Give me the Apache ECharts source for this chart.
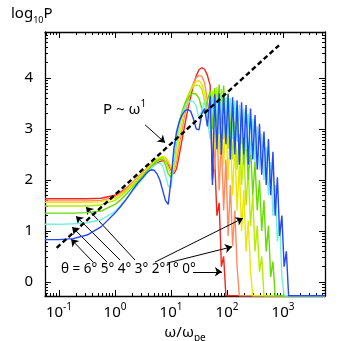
<!DOCTYPE html>
<html>
<head>
<meta charset="UTF-8">
<title>log10P vs ω/ωpe</title>
<style>
  html, body { margin: 0; padding: 0; background: #fff; }
  #chart { width: 341px; height: 341px; }
</style>
<script src="https://cdn.jsdelivr.net/npm/echarts@6/dist/echarts.min.js"></script>
</head>
<body>
<div id="chart"></div>
<script>
// shared frequency grid, as log10(ω/ωpe)
var logOmega = [
  -1.25, -1.0, -0.75, -0.5, -0.25, 0, 0.1, 0.2, 0.3, 0.4,
  0.5, 0.55, 0.6, 0.65, 0.7, 0.75, 0.8, 0.85, 0.9, 0.95, 1.0, 1.05,
  1.1, 1.15, 1.2, 1.25, 1.3, 1.35, 1.4, 1.45, 1.5, 1.55, 1.6, 1.65,
  1.70, 1.74, 1.78, 1.82, 1.86, 1.90, 1.94, 1.98, 2.02, 2.06, 2.10, 2.14,
  2.18, 2.22, 2.26, 2.30, 2.34, 2.38, 2.42, 2.46, 2.50, 2.54, 2.58, 2.62,
  2.66, 2.70, 2.74, 2.78, 2.82, 2.86, 2.90, 2.94, 2.98, 3.02, 3.06, 3.10, 3.14,
  3.75
];
var F = -0.27; // spectrum below the plotted range, sits on the bottom axis

// log10 P for each angle
var p0 = [ // 0 deg, red
  1.63, 1.63, 1.63, 1.63, 1.64, 1.70, 1.76, 1.84, 1.93, 2.03,
  2.13, 2.18, 2.23, 2.27, 2.30, 2.33, 2.36, 2.38, 2.37, 2.30, 2.20, 2.12,
  2.22, 2.50, 2.80, 3.10, 3.38, 3.62, 3.86, 4.04, 4.16, 4.20, 4.17, 4.05,
  3.85, 2.00, 2.40, 1.30, 1.55, 0.30, 0.50, F, F, F, F, F,
  F, F, F, F, F, F, F, F, F, F, F, F,
  F, F, F, F, F, F, F, F, F, F, F, F, F,
  F
];
var p1 = [ // 1 deg, orange
  1.59, 1.59, 1.59, 1.59, 1.60, 1.67, 1.74, 1.83, 1.94, 2.05,
  2.15, 2.21, 2.27, 2.32, 2.37, 2.41, 2.44, 2.45, 2.43, 2.35, 2.22, 2.15,
  2.35, 2.70, 3.00, 3.30, 3.55, 3.75, 3.90, 4.00, 4.05, 4.03, 3.90, 3.55,
  3.00, 3.35, 2.20, 3.10, 1.80, 2.80, 1.40, 2.40, 0.90, 1.90, 0.70, 1.40,
  0.30, F, F, F, F, F, F, F, F, F, F, F,
  F, F, F, F, F, F, F, F, F, F, F, F, F,
  F
];
var p2 = [ // 2 deg, yellow
  1.56, 1.56, 1.56, 1.56, 1.57, 1.64, 1.71, 1.80, 1.91, 2.02,
  2.13, 2.19, 2.25, 2.31, 2.36, 2.41, 2.44, 2.46, 2.44, 2.37, 2.24, 2.20,
  2.50, 2.85, 3.15, 3.40, 3.60, 3.75, 3.86, 3.93, 3.95, 3.88, 3.70, 3.35,
  3.00, 3.60, 2.60, 3.55, 2.50, 3.40, 2.30, 3.20, 2.00, 2.95, 1.70, 2.70,
  1.40, 2.30, 1.00, 1.80, 0.60, 1.20, 0.20, F, F, F, F, F,
  F, F, F, F, F, F, F, F, F, F, F, F, F,
  F
];
var p3 = [ // 3 deg, yellow-green
  1.49, 1.49, 1.49, 1.49, 1.51, 1.60, 1.68, 1.78, 1.89, 2.00,
  2.11, 2.17, 2.23, 2.29, 2.34, 2.39, 2.42, 2.43, 2.38, 2.25, 2.12, 2.30,
  2.70, 3.05, 3.30, 3.50, 3.65, 3.76, 3.83, 3.86, 3.85, 3.78, 3.55, 3.30,
  3.10, 3.75, 2.90, 3.82, 2.90, 3.78, 2.80, 3.60, 2.60, 3.40, 2.40, 3.15,
  2.20, 2.90, 1.90, 2.60, 1.50, 2.20, 1.10, 1.70, 0.60, 1.10, 0.20, 0.50,
  F, F, F, F, F, F, F, F, F, F, F, F, F,
  F
];
var p4 = [ // 4 deg, green
  1.35, 1.35, 1.35, 1.36, 1.39, 1.52, 1.61, 1.72, 1.84, 1.96,
  2.08, 2.14, 2.20, 2.26, 2.32, 2.37, 2.40, 2.40, 2.30, 2.12, 2.05, 2.40,
  2.85, 3.15, 3.35, 3.50, 3.60, 3.67, 3.70, 3.68, 3.60, 3.40, 3.30, 3.55,
  3.75, 3.00, 3.80, 3.10, 3.87, 3.10, 3.85, 3.00, 3.70, 2.90, 3.50, 2.70,
  3.35, 2.50, 3.15, 2.30, 2.90, 2.00, 2.65, 1.70, 2.35, 1.40, 2.00, 1.00,
  1.60, 0.60, 1.10, 0.10, 0.40, F, F, F, F, F, F, F, F,
  F
];
var p5 = [ // 5 deg, cyan
  1.13, 1.13, 1.14, 1.16, 1.22, 1.38, 1.50, 1.63, 1.76, 1.90,
  2.03, 2.10, 2.17, 2.23, 2.28, 2.32, 2.33, 2.28, 2.10, 1.88, 1.85, 2.35,
  2.80, 3.10, 3.30, 3.43, 3.51, 3.55, 3.54, 3.45, 3.20, 3.35, 3.55, 3.20,
  2.80, 3.60, 2.90, 3.62, 2.90, 3.65, 2.90, 3.62, 2.85, 3.60, 2.80, 3.55,
  2.75, 3.48, 2.70, 3.40, 2.60, 3.30, 2.50, 3.20, 2.35, 3.05, 2.20, 2.90,
  2.00, 2.65, 1.70, 2.35, 1.30, 1.90, 0.80, 1.20, 0.10, F, F, F, F,
  F
];
var p6 = [ // 6 deg, blue
  0.83, 0.83, 0.85, 0.92, 1.08, 1.35, 1.48, 1.62, 1.78, 1.93,
  2.05, 2.12, 2.17, 2.20, 2.19, 2.12, 2.00, 1.80, 1.60, 1.52, 2.00, 2.60,
  2.95, 3.15, 3.28, 3.36, 3.38, 3.35, 3.20, 3.00, 2.98, 3.30, 3.40, 3.05,
  3.65, 1.90, 3.68, 2.60, 3.70, 2.50, 3.70, 2.70, 3.68, 2.40, 3.62, 2.50,
  3.56, 2.30, 3.52, 2.50, 3.47, 2.30, 3.40, 2.40, 3.27, 2.20, 3.10, 2.10,
  2.95, 1.90, 2.80, 1.70, 2.55, 1.30, 2.05, 0.90, 1.30, 0.30, 0.60, F, F,
  F
];
var curveNames = ['0°', '1°', '2°', '3°', '4°', '5°', '6°'];
var curveColors = ['#f3261a', '#ff8c5e', '#eee600', '#b6ec00', '#66dc00', '#72f0dc', '#2547f5'];

// P ~ ω^1 guide
var guideOmega = [0.091, 850];
var guideLogP = [0.67, 4.64];

// annotation arrows [ω, log10P] -> [ω, log10P]
var arrowFrom = [[3.44, 3.08], [0.405, 0.39], [0.719, 0.39], [1.23, 0.43], [2.28, 0.43], [5.18, 0.39], [8.49, 0.37], [24.7, 0.20]];
var arrowTo   = [[7.82, 2.73], [0.164, 0.84], [0.171, 1.08], [0.201, 1.29], [0.303, 1.47], [193, 1.25], [123, 0.69], [81, 0.20]];

var xMin = 0.0562, xMax = 5623;
var yMin = -0.275, yMax = 4.9;
var xMajor = [0.1, 1, 10, 100, 1000];
var yMajor = [0, 1, 2, 3, 4];

var xMinor = [];
for (var d = -2; d <= 3; d++) {
  for (var k = 2; k <= 9; k++) {
    var v = k * Math.pow(10, d);
    if (v > xMin && v < xMax) xMinor.push(v);
  }
}
var yMinor = [];
for (var n = -1; n <= 4; n++) {
  for (var k2 = 2; k2 <= 9; k2++) {
    var w = n + Math.log10(k2);
    if (w > yMin && w < yMax) yMinor.push(w);
  }
}

var font = 'Noto Sans';
var chart = echarts.init(document.getElementById('chart'));

function xAxisOf(pos, ticks, len, showLine, showLabel) {
  return {
    type: 'log', logBase: 10, min: xMin, max: xMax, position: pos,
    axisLine: { show: showLine, onZero: false, lineStyle: { color: '#000', width: 1.3 } },
    axisTick: { show: true, inside: true, length: len, customValues: ticks, lineStyle: { color: '#000', width: 1 } },
    axisLabel: showLabel ? {
      customValues: xMajor, margin: 6, color: '#000', fontFamily: font, fontSize: 15,
      formatter: function (val) {
        return '{b|10}{s|' + Math.round(Math.log10(val)) + '}';
      },
      rich: {
        b: { fontSize: 15, fontFamily: font, color: '#000', lineHeight: 22 },
        s: { fontSize: 10, fontFamily: font, color: '#000', lineHeight: 12, verticalAlign: 'top' }
      }
    } : { show: false },
    splitLine: { show: false },
    minorTick: { show: false }
  };
}
function yAxisOf(pos, ticks, len, showLine, showLabel) {
  return {
    type: 'value', min: yMin, max: yMax, position: pos,
    axisLine: { show: showLine, onZero: false, lineStyle: { color: '#000', width: 1.3 } },
    axisTick: { show: true, inside: true, length: len, customValues: ticks, lineStyle: { color: '#000', width: 1 } },
    axisLabel: showLabel ? {
      customValues: yMajor, margin: 12, color: '#000', fontFamily: font, fontSize: 15
    } : { show: false },
    splitLine: { show: false },
    minorTick: { show: false }
  };
}

var curves = [p0, p1, p2, p3, p4, p5, p6];
var series = curves.map(function (vals, i) {
  return {
    name: curveNames[i],
    type: 'line',
    data: logOmega.map(function (e, j) { return [Math.pow(10, e), vals[j]]; }),
    showSymbol: false,
    lineStyle: { color: curveColors[i], width: 1.4 },
    itemStyle: { color: curveColors[i] },
    z: 2 + i
  };
});

series.push({
  name: 'P ~ ω',
  type: 'line',
  data: guideOmega.map(function (x, j) { return [x, guideLogP[j]]; }),
  showSymbol: false,
  lineStyle: { color: '#000', width: 2.4, type: [5, 3] },
  z: 20,
  markLine: {
    silent: true,
    symbol: ['none', 'arrow'],
    symbolSize: 7,
    label: { show: false },
    lineStyle: { color: '#000', width: 1, type: 'solid' },
    data: arrowFrom.map(function (a, j) {
      return [{ coord: a }, { coord: arrowTo[j] }];
    })
  }
});

chart.setOption({
  animation: false,
  backgroundColor: '#fff',
  grid: { left: 45, right: 16, top: 32, bottom: 45, containLabel: false, outerBoundsMode: 'none' },
  xAxis: [
    Object.assign(xAxisOf('bottom', xMajor, 6, true, true), {
      name: '{w|ω/ω}{p|pe}', nameLocation: 'middle', nameGap: 24,
      nameTextStyle: {
        rich: {
          w: { fontSize: 15, fontFamily: font, color: '#000', lineHeight: 20 },
          p: { fontSize: 10, fontFamily: font, color: '#000', lineHeight: 12, verticalAlign: 'bottom' }
        }
      }
    }),
    xAxisOf('bottom', xMinor, 3, false, false),
    xAxisOf('top', xMajor, 6, true, false),
    xAxisOf('top', xMinor, 3, false, false)
  ],
  yAxis: [
    yAxisOf('left', yMajor, 6, true, true),
    yAxisOf('left', yMinor, 3, false, false),
    yAxisOf('right', yMajor, 6, true, false),
    yAxisOf('right', yMinor, 3, false, false)
  ],
  graphic: [
    {
      type: 'text', left: 11, top: 6,
      style: {
        text: '{b|log}{s|10}{b|P}',
        rich: {
          b: { fontSize: 15, fontFamily: font, fill: '#000', lineHeight: 22 },
          s: { fontSize: 9, fontFamily: font, fill: '#000', lineHeight: 11, verticalAlign: 'bottom' }
        }
      }
    },
    {
      type: 'text', left: 103, top: 99,
      style: {
        text: '{b|P ~ ω}{s|1}',
        rich: {
          b: { fontSize: 15, fontFamily: font, fill: '#000', lineHeight: 22 },
          s: { fontSize: 10, fontFamily: font, fill: '#000', lineHeight: 12, verticalAlign: 'top' }
        }
      }
    },
    {
      type: 'text', left: 61, top: 262,
      style: {
        text: 'θ = 6° 5° 4° 3° 2°1° 0°',
        fontSize: 13.5, fontFamily: font, fill: '#000'
      }
    }
  ],
  series: series
});
</script>
</body>
</html>
